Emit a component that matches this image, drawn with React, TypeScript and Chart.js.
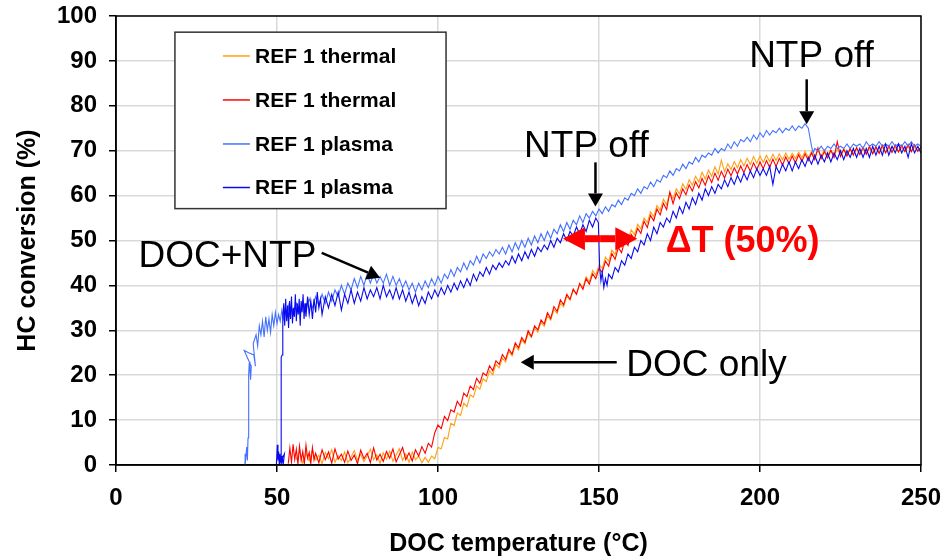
import React, { useEffect, useRef } from "react";
import { Chart, registerables } from "chart.js";

Chart.register(...registerables);

const FONT = "'Liberation Sans', Arial, Helvetica, sans-serif";

const xTickValues = [0, 50, 100, 150, 200, 250];
const yTickValues = [0, 10, 20, 30, 40, 50, 60, 70, 80, 90, 100];

const seriesLabels = ["REF 1 thermal", "REF 1 thermal", "REF 1 plasma", "REF 1 plasma"];
const seriesColors = ["#FFA011", "#FF0000", "#4472FF", "#0A0AEE"];

// [DOC temperature (°C), HC conversion (%)]
const thermalA: [number, number][] = [
  [56,1.2],[57,3.1],[58,0.4],[59,2.6],[60,0.9],[61,3.3],[62,1.1],[63,2.2],[64,0.3],[65,2.8],[66,1.4],[67,3.4],[68,0.6],[69,2.1],[70,1.0],[71,2.9],[72,0.5],[73,1.8],[74,3.2],[75,1.1],[76,2.4],[77,0.7],[78,2.0],[79,3.5],[80,1.2],[81,2.3],[82,0.4],[83,2.7],[84,1.3],[85,3.1],[86,0.8],[87,2.2],[88,3.6],[89,1.0],[90,2.5],[91,0.6],[92,2.9],[93,1.2],[94,2.0],[95,0.5],[96,1.7],[97,0.6],[98,2.0],[99,1.4],
  [100,3.9],[101,3.6],[102,6.1],[103,5.8],[104,9.3],[105,8.8],[106,11.6],[107,11.0],[108,13.8],[109,13.0],[110,15.6],[111,15.1],[112,17.6],[113,16.9],[114,19.2],[115,18.6],[116,21.0],[117,20.1],[118,22.4],[119,21.6],[120,23.8],[121,22.9],[122,25.3],[123,24.3],[124,26.6],[125,25.6],[126,27.9],[127,27.0],[128,29.3],[129,28.4],[130,30.5],[131,29.6],[132,31.8],[133,30.9],[134,33.2],[135,32.3],[136,34.6],[137,33.7],[138,36.1],[139,35.2],[140,37.6],[141,36.7],[142,39.0],[143,38.1],[144,40.4],[145,39.5],[146,41.9],[147,40.8],[148,43.3],[149,42.3],[150,44.6],[151,43.8],[152,46.3],[153,45.4],[154,47.9],[155,46.9],[156,49.5],[157,48.6],[158,51.1],[159,50.1],[160,52.4],[161,51.3],[162,53.6],[163,52.6],[164,55.0],[165,54.0],[166,56.4],[167,55.3],[168,57.8],[169,56.7],[170,59.2],[171,58.0],[172,60.6],[173,59.3],[174,61.5],[175,60.4],[176,62.6],[177,61.4],[178,63.5],[179,62.3],[180,64.3],[181,63.0],[182,65.2],[183,63.7],[184,65.7],[185,64.3],[186,66.4],[187,64.8],[188,67.9],[189,65.3],[190,67.1],[191,65.8],[192,67.6],[193,66.2],[194,68.0],[195,66.6],[196,68.3],[197,66.9],[198,68.7],[199,67.2],[200,68.8],[201,67.4],[202,69.0],[203,67.6],[204,69.2],[205,67.8],[206,69.3],[207,68.0],[208,69.5],[209,68.1],[210,69.4],[211,68.3],[212,69.7],[213,68.4],[214,69.9],[215,68.5],[216,69.8],[217,68.7],[218,70.1],[219,68.8],[220,70.2],[221,68.9],[222,70.1],[223,69.0],[224,70.3],[225,69.1],[226,70.4],[227,69.2],[228,70.3],[229,69.3],[230,70.5],[231,69.3],[232,70.4],[233,69.4],[234,70.6],[235,69.5],[236,70.5],[237,69.5],[238,70.7],[239,69.6],[240,70.6],[241,69.7],[242,70.8],[243,69.7],[244,70.7],[245,69.8],[246,70.9],[247,69.8],[248,70.8],[249,69.9],[250,70.5]
];

const thermalB: [number, number][] = [
  [53.5,0.3],[54,3.8],[54.5,0.6],[55,4.6],[55.5,1.2],[56,3.5],[56.5,0.2],[57,4.2],[57.5,1.0],[58,3.0],[58.5,0.4],[59,4.4],[59.5,1.5],[60,2.8],[60.5,0.3],[61,3.9],[61.5,1.1],[62,2.6],[63,0.5],[64,3.4],[65,1.2],[66,2.9],[67,0.4],[68,3.6],[69,1.3],[70,2.4],[71,0.6],[72,3.1],[73,1.0],[74,2.2],[75,0.3],[76,3.3],[77,1.4],[78,2.6],[79,0.5],[80,3.8],[81,1.1],[82,2.4],[83,0.8],[84,3.0],[85,1.5],[86,3.6],[87,0.7],[88,2.3],[89,3.9],[90,1.2],[91,2.7],[92,0.9],[93,3.4],[94,2.0],[95,4.1],[96,2.6],[97,4.8],[98,4.0],[99,7.2],
  [100,8.9],[101,8.1],[102,10.8],[103,9.9],[104,12.3],[105,11.8],[106,14.2],[107,13.1],[108,16.0],[109,15.2],[110,17.6],[111,16.8],[112,19.3],[113,18.2],[114,20.5],[115,19.9],[116,22.1],[117,21.0],[118,23.2],[119,22.4],[120,24.6],[121,23.5],[122,25.8],[123,24.7],[124,27.2],[125,26.1],[126,28.4],[127,27.3],[128,29.9],[129,28.6],[130,31.0],[131,30.1],[132,32.3],[133,31.4],[134,33.9],[135,32.6],[136,35.3],[137,34.2],[138,36.8],[139,35.7],[140,38.0],[141,36.9],[142,39.2],[143,38.0],[144,40.4],[145,39.1],[146,41.5],[147,40.3],[148,42.6],[149,41.5],[150,43.8],[151,42.9],[152,45.4],[153,44.3],[154,47.1],[155,45.8],[156,48.4],[157,47.3],[158,50.0],[159,48.9],[160,51.4],[161,50.3],[162,52.7],[163,51.6],[164,54.3],[165,52.9],[166,55.6],[167,54.4],[168,57.0],[169,55.7],[170,58.3],[171,56.9],[172,60.8],[173,58.2],[174,60.6],[175,59.3],[176,61.5],[177,60.2],[178,62.4],[179,61.0],[180,63.1],[181,61.7],[182,63.8],[183,62.3],[184,64.4],[185,62.9],[186,65.0],[187,63.4],[188,65.4],[189,63.9],[190,65.9],[191,64.4],[192,66.2],[193,64.8],[194,66.6],[195,65.1],[196,66.9],[197,65.4],[198,67.3],[199,65.8],[200,67.5],[201,66.0],[202,67.8],[203,66.3],[204,68.1],[205,66.5],[206,68.3],[207,66.8],[208,68.6],[209,67.1],[210,68.8],[211,67.3],[212,69.1],[213,67.6],[214,69.3],[215,67.8],[216,69.5],[217,68.0],[218,70.6],[219,68.2],[220,69.8],[221,68.4],[222,70.1],[223,68.5],[224,72.0],[225,68.7],[226,70.3],[227,68.8],[228,70.5],[229,69.0],[230,70.7],[231,69.1],[232,70.8],[233,69.2],[234,71.0],[235,69.3],[236,70.9],[237,69.4],[238,71.2],[239,69.5],[240,71.1],[241,69.6],[242,71.3],[243,69.7],[244,71.2],[245,69.8],[246,71.4],[247,69.8],[248,71.3],[249,69.9],[250,70.8]
];

const plasmaA: [number, number][] = [
  [40,0],[40.3,2.5],[40.1,0],[40.6,4],[40.8,1],[41,6],[41.1,11],[41.2,16],[41.3,20],[41.4,23],[41.6,21],[41.8,19],[42,22],[39.8,25.5],[41.2,25],[42.8,24.5],[43.3,22],[42.6,27],[43.5,29],[44,26.5],[44.5,31],[45,29],[45.5,32],[46,28.5],[46.5,33],[47,30],[47.5,32.5],[48,29.5],[48.5,33.5],[49,31],[49.5,34],[50,31.5],[50.5,33.5],[51,32],[51.5,34.5],[52,32.5],[52.5,35],[53,33],[53.5,35.5],[54,33.5],[54.5,35],[55,34],[56,36],[57,34],[58,36.5],[59,34.5],[60,37],[61,35],[62,37.5],[63,35.5],[64,38],[65,36],[66,38.5],[67,36.5],[68,39],[69,37.5],[70,40],[71,38],[72,40.5],[73,39],[74,41.5],[75,39.5],[76,42],[77,40],[78,42.5],[79,40.5],[80,42.5],[81,40.5],[82,42],[83,40.5],[84,42.5],[85,40],[86,42],[87,40],[88,41.5],[89,39.5],[90,41],[91,39],[92,40.5],[93,38.5],[94,40.5],[95,39],[96,41],[97,39.5],[98,41.5],[99,40],
  [100,42],[101,40.5],[102,42.5],[103,41.5],[104,43.5],[105,42],[106,44],[107,43],[108,45],[109,43.5],[110,45.5],[111,44.5],[112,46.5],[113,45],[114,47],[115,46],[116,47.5],[117,46.5],[118,48],[119,47],[120,48.5],[121,47],[122,49],[123,47.5],[124,49.5],[125,48],[126,50],[127,48.5],[128,50.5],[129,49],[130,51],[131,49.5],[132,51.5],[133,50],[134,52],[135,50.5],[136,52.5],[137,51.5],[138,53.5],[139,52],[140,54],[141,52.5],[142,54.5],[143,53.5],[144,55.5],[145,54],[146,56],[147,55],[148,56.5],[149,55.5],[150,57],[151,56],[152,57.5],[153,56.5],[154,58],[155,57.5],[156,59],[157,58],[158,59.5],[159,59],[160,60.5],[161,60],[162,61.5],[163,60.5],[164,62],[165,61.5],[166,63],[167,62],[168,63.5],[169,63],[170,64.5],[171,64],[172,65.5],[173,64.5],[174,66],[175,65.5],[176,67],[177,66],[178,67.5],[179,67],[180,68.5],[181,67.5],[182,69],[183,68.5],[184,69.5],[185,69],[186,70.5],[187,69.5],[188,70.5],[189,70],[190,71.5],[191,70.5],[192,72],[193,71],[194,72.5],[195,72],[196,73],[197,72],[198,73.5],[199,72.5],[200,74],[201,73],[202,74.5],[203,73.5],[204,74.5],[205,74],[206,75],[207,74],[208,75],[209,74.5],[210,75.5],[211,74.5],[212,75.5],[213,75],[214,76],[215,75],[215.5,73],[216,71],[216.5,69.5],[217,70.5],[218,70],[219,71],[220,70],[221,71],[222,70.5],[223,71.5],[224,70.5],[225,71],[226,70.5],[227,71.5],[228,70.5],[229,71.5],[230,71],[231,71.5],[232,70.5],[233,72],[234,71],[235,71.5],[236,71],[237,72],[238,71],[239,71.5],[240,71],[241,72],[242,71],[243,71.5],[244,71],[245,72],[246,71],[247,72],[248,71],[249,71.5],[250,71]
];

const plasmaB: [number, number][] = [
  [49.8,0],[50.1,4.5],[50.3,1],[50.5,3],[50.7,0.3],[50.9,2.5],[51.1,0.5],[51.3,2],[51.5,0],[51.7,1.5],[52,0.5],[52.3,2.5],[51.3,1],[51.3,24],[51.6,24.5],[51.8,33],[52.1,36],[52.4,31],[52.7,37],[53,32],[53.3,35.5],[53.6,30.5],[53.9,36.5],[54.2,32.5],[54.5,37.5],[54.8,31.5],[55.1,35],[55.4,33],[55.7,38],[56,32],[56.3,36],[56.6,33.5],[56.9,37],[57.2,31],[57.5,36.5],[57.8,34],[58.1,38],[58.4,32.5],[58.7,36],[59,33],[59.5,37.5],[60,33.5],[60.5,36.5],[61,32.5],[61.5,37],[62,34],[62.5,38.5],[63,35],[63.5,37],[64,33.5],[65,37.5],[66,35],[67,38],[68,35.5],[69,38.5],[70,34.5],[71,38],[72,36],[73,39],[74,36],[75,38.5],[76,36.5],[77,39.5],[78,37],[79,39],[80,37.5],[81,39.5],[82,37],[83,40],[84,37.5],[85,39],[86,37],[87,39.5],[88,37],[89,39],[90,36.5],[91,38.5],[92,36],[93,38],[94,35.5],[95,37.5],[96,36],[97,38.5],[98,37],[99,39],
  [100,37.5],[101,39.5],[102,38],[103,40],[104,38.5],[105,40.5],[106,39],[107,41],[108,39.5],[109,41.5],[110,40],[111,42.5],[112,41],[113,43],[114,42],[115,44],[116,42.5],[117,44.5],[118,43.5],[119,45],[120,44],[121,45.5],[122,44.5],[123,46.5],[124,45],[125,47],[126,45.5],[127,47.5],[128,46],[129,48],[130,46.5],[131,48.5],[132,47.5],[133,49],[134,48],[135,50],[136,48.5],[137,50.5],[138,49.5],[139,51.5],[140,50],[141,52],[142,51],[143,53],[144,51.5],[145,53.5],[146,52],[147,54.5],[148,53],[149,55],[149.8,54],[150.2,44],[150.6,41],[151,43],[151.5,39.5],[152,41.5],[152.5,40],[153,42.5],[154,41.5],[155,44],[156,43],[157,45.5],[158,44.5],[159,47],[160,46],[161,48.5],[162,47.5],[163,50],[164,49],[165,51.5],[166,50],[167,53],[168,51.5],[169,54],[170,53],[171,55],[172,54],[173,56.5],[174,55],[175,57.5],[176,56],[177,58.5],[178,57],[179,59.5],[180,58],[181,60.5],[182,59],[183,61.5],[184,60],[185,62],[186,60.5],[187,62.5],[188,61.5],[189,63.5],[190,62],[191,64],[192,62.5],[193,64.5],[194,63],[195,65],[196,63.5],[197,65.5],[198,64],[199,66],[200,64.5],[201,66],[202,64.5],[203,66.5],[204,62.5],[205,66.5],[206,65],[207,67],[208,65.5],[209,67.5],[210,65.5],[211,67.5],[212,66],[213,68],[214,66.5],[215,68.5],[216,67],[217,69],[218,67],[219,69],[220,67.5],[221,69.5],[222,67.5],[223,69.5],[224,68],[225,70],[226,68],[227,70],[228,68.5],[229,70.5],[230,68.5],[231,70.5],[232,68.5],[233,70.5],[234,68.5],[235,71],[236,69],[237,71],[238,69],[239,71.5],[240,69],[241,71],[242,69.5],[243,71.5],[244,69.5],[245,71],[246,68.5],[247,71.5],[248,69.5],[249,71],[250,69.5]
];

// Annotations in data coordinates
const textNotes = [
  { text: "NTP off", x: 146.1, y: 68.7, bold: false, color: "#000" },
  { text: "NTP off", x: 216.0, y: 88.6, bold: false, color: "#000" },
  { text: "DOC+NTP", x: 34.6, y: 44.0, bold: false, color: "#000" },
  { text: "DOC only", x: 183.4, y: 19.9, bold: false, color: "#000" },
  { text: "\u0394T (50%)", x: 194.6, y: 47.5, bold: true, color: "#FF0000" },
];
const arrowNotes = [
  { x1: 148.9, y1: 67.4, x2: 148.9, y2: 57.6 },
  { x1: 214.5, y1: 85.9, x2: 214.5, y2: 75.9 },
  { x1: 63.9, y1: 47.25, x2: 82.0, y2: 41.7 },
  { x1: 155.5, y1: 22.9, x2: 125.7, y2: 22.9 },
];
const deltaArrow = { x1: 138.8, x2: 161.9, y: 50.4 };
const legendBox = { x1: 18.3, x2: 102.5, y1: 96.4, y2: 57.1, lineX1: 33.2, lineX2: 41.6, textX: 43.2, rows: [91.1, 81.3, 71.5, 61.8] };

function drawArrow(ctx: CanvasRenderingContext2D, x1: number, y1: number, x2: number, y2: number, headLen: number, headW: number, lw: number, color: string) {
  const ang = Math.atan2(y2 - y1, x2 - x1);
  const bx = x2 - headLen * Math.cos(ang);
  const by = y2 - headLen * Math.sin(ang);
  ctx.strokeStyle = color;
  ctx.lineWidth = lw;
  ctx.beginPath();
  ctx.moveTo(x1, y1);
  ctx.lineTo(bx, by);
  ctx.stroke();
  ctx.fillStyle = color;
  ctx.beginPath();
  ctx.moveTo(x2, y2);
  ctx.lineTo(bx + (headW / 2) * Math.sin(ang), by - (headW / 2) * Math.cos(ang));
  ctx.lineTo(bx - (headW / 2) * Math.sin(ang), by + (headW / 2) * Math.cos(ang));
  ctx.closePath();
  ctx.fill();
}

const overlayPlugin = {
  id: "overlay",
  afterDatasetsDraw(chart: any) {
    const { ctx, chartArea: a, scales } = chart;
    const xs = scales.x;
    const ys = scales.y;
    const px = (v: number) => xs.getPixelForValue(v);
    const py = (v: number) => ys.getPixelForValue(v);
    ctx.save();
    // frame
    ctx.strokeStyle = "#000";
    ctx.lineWidth = 1.5;
    ctx.strokeRect(a.left, a.top, a.right - a.left, a.bottom - a.top);

    // legend
    const lx1 = px(legendBox.x1), lx2 = px(legendBox.x2), ly1 = py(legendBox.y1), ly2 = py(legendBox.y2);
    ctx.fillStyle = "#fff";
    ctx.fillRect(lx1, ly1, lx2 - lx1, ly2 - ly1);
    ctx.strokeStyle = "#333";
    ctx.lineWidth = 1.5;
    ctx.strokeRect(lx1, ly1, lx2 - lx1, ly2 - ly1);
    ctx.font = `bold 21px ${FONT}`;
    ctx.textAlign = "left";
    ctx.textBaseline = "middle";
    seriesLabels.forEach((lab, i) => {
      const yy = py(legendBox.rows[i]);
      ctx.strokeStyle = seriesColors[i];
      ctx.lineWidth = 1.5;
      ctx.beginPath();
      ctx.moveTo(px(legendBox.lineX1), yy);
      ctx.lineTo(px(legendBox.lineX2), yy);
      ctx.stroke();
      ctx.fillStyle = "#000";
      ctx.fillText(lab, px(legendBox.textX), yy + 1);
    });

    // texts
    ctx.textAlign = "center";
    ctx.textBaseline = "alphabetic";
    textNotes.forEach((t) => {
      ctx.font = `${t.bold ? "bold 36px" : "37px"} ${FONT}`;
      ctx.fillStyle = t.color;
      ctx.fillText(t.text, px(t.x), py(t.y));
    });

    // arrows
    arrowNotes.forEach((ar) => {
      drawArrow(ctx, px(ar.x1), py(ar.y1), px(ar.x2), py(ar.y2), 13, 15, 2.5, "#000");
    });
    // red double arrow
    const dxa = px(deltaArrow.x1), dxb = px(deltaArrow.x2), dy = py(deltaArrow.y);
    const mid = (dxa + dxb) / 2;
    drawArrow(ctx, mid, dy, dxa, dy, 22, 23, 7, "#FF0000");
    drawArrow(ctx, mid, dy, dxb, dy, 22, 23, 7, "#FF0000");
    ctx.restore();
  },
};

export default function App() {
  const ref = useRef<HTMLCanvasElement | null>(null);
  useEffect(() => {
    document.body.style.margin = "0";
    const canvas = ref.current;
    if (!canvas) return;
    const mk = (d: [number, number][]) => d.map(([x, y]) => ({ x, y }));
    const allData = [thermalA, thermalB, plasmaA, plasmaB];
    const tickFont = { family: FONT, size: 24, weight: "bold" };
    const titleFont = { family: FONT, size: 25, weight: "bold" };
    const zeroPad = (s: any) => {
      s.paddingTop = 0;
      s.paddingBottom = 0;
      s.paddingLeft = 0;
      s.paddingRight = 0;
    };
    const chart = new Chart(canvas, {
      type: "scatter",
      data: {
        datasets: allData.map((d, i) => ({
          label: seriesLabels[i],
          data: mk(d),
          showLine: true,
          borderColor: seriesColors[i],
          backgroundColor: seriesColors[i],
          borderWidth: 1.1,
          pointRadius: 0,
          pointHoverRadius: 0,
          tension: 0,
          order: 4 - i,
        })),
      },
      options: {
        responsive: true,
        maintainAspectRatio: false,
        animation: false,
        events: [],
        layout: { padding: { left: 0, right: 26, top: 16, bottom: 0 } },
        plugins: { legend: { display: false }, tooltip: { enabled: false } },
        scales: {
          x: {
            type: "linear",
            min: xTickValues[0],
            max: xTickValues[xTickValues.length - 1],
            afterBuildTicks: (s: any) => { s.ticks = xTickValues.map((v) => ({ value: v })); },
            ticks: { font: tickFont, color: "#000", padding: 12, maxRotation: 0, autoSkip: false },
            grid: { color: "#D9D9D9", lineWidth: 1.5, tickLength: 7, tickColor: "#000", tickWidth: 1.5 },
            border: { color: "#000", width: 1.5 },
            title: { display: true, text: "DOC temperature (°C)", font: titleFont, color: "#000", padding: { top: 0, bottom: 0 } },
            afterFit: (s: any) => { s.height = 94; zeroPad(s); },
          },
          y: {
            type: "linear",
            min: yTickValues[0],
            max: yTickValues[yTickValues.length - 1],
            afterBuildTicks: (s: any) => { s.ticks = yTickValues.map((v) => ({ value: v })); },
            ticks: { font: tickFont, color: "#000", padding: 12, autoSkip: false },
            grid: { color: "#D9D9D9", lineWidth: 1.5, tickLength: 7, tickColor: "#000", tickWidth: 1.5 },
            border: { color: "#000", width: 1.5 },
            title: { display: true, text: "HC conversion (%)", font: titleFont, color: "#000", padding: { top: 13, bottom: 0 } },
            afterFit: (s: any) => { s.width = 116; zeroPad(s); },
          },
        },
      },
      plugins: [overlayPlugin],
    } as any);
    return () => chart.destroy();
  }, []);
  return (
    <div style={{ width: 947, height: 559, position: "relative", background: "#fff" }}>
      <canvas ref={ref} />
    </div>
  );
}
